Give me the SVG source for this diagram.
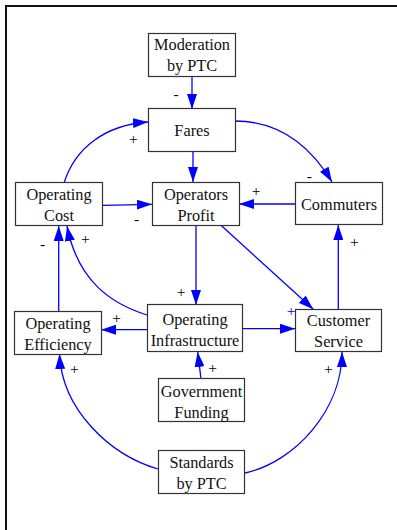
<svg xmlns="http://www.w3.org/2000/svg" width="397" height="530" viewBox="0 0 397 530">
<defs>
<style>
.node rect{fill:#fff;stroke:#333;stroke-width:1.2}
.node text{font-size:16.3px;fill:#111;text-anchor:middle}
.edge{fill:none;stroke:#0000ff;stroke-width:1.3;marker-end:url(#ah)}
.lbl{font-size:15.5px;fill:#000;text-anchor:middle}
.blue{fill:#0000ff}
</style>
<marker id="ah" markerUnits="userSpaceOnUse" markerWidth="15" markerHeight="10" refX="15" refY="5" orient="auto" viewBox="0 0 15 10">
<path d="M0,0 L15,5 L0,10 z" fill="#0000ff"/>
</marker>
</defs>
<rect x="6" y="6" width="420" height="560" fill="#fff" stroke="#111" stroke-width="2"/>
<g id="connectors" font-family="'Liberation Serif', 'Times New Roman', Times, serif">
<path class="edge" d="M192,76 L192,109"/>
<path class="edge" d="M193,152 L193,182"/>
<path class="edge" d="M235,121 C285,121 314,152 332,182"/>
<path class="edge" d="M64,183 C75,148 105,125 148,122"/>
<path class="edge" d="M102,205.3 L152,204.3"/>
<path class="edge" d="M296,204 L239,204"/>
<path class="edge" d="M196,225 L196,305"/>
<path class="edge" d="M220.7,225 L313.3,309.3"/>
<path class="edge" d="M147,329.7 L101,329.7"/>
<path class="edge" d="M242,328.7 L295,328.7"/>
<path class="edge" d="M147,315 C112,304 78,282 67,226"/>
<path class="edge" d="M58.7,311 L58.7,226"/>
<path class="edge" d="M338.3,309 L338.3,225"/>
<path class="edge" d="M201,379 L197.7,352"/>
<path class="edge" d="M158,469 C110,455 62,410 59.5,354"/>
<path class="edge" d="M245,473 C295,462 342,410 342,352"/>
<text class="lbl" x="176" y="98.5">-</text>
<text class="lbl" x="133.3" y="143.5">+</text>
<text class="lbl" x="309.3" y="180.5">-</text>
<text class="lbl" x="136.7" y="223.5">-</text>
<text class="lbl" x="256" y="195.8">+</text>
<text class="lbl" x="181" y="297">+</text>
<text class="lbl blue" x="291" y="315.5">+</text>
<text class="lbl" x="116.7" y="323">+</text>
<text class="lbl" x="85.3" y="243.8">+</text>
<text class="lbl" x="42.7" y="248.5">-</text>
<text class="lbl" x="354.3" y="247">+</text>
<text class="lbl" x="212.7" y="372.5">+</text>
<text class="lbl" x="74.3" y="374.2">+</text>
<text class="lbl" x="328.3" y="373.5">+</text>
</g>
<g font-family="'Liberation Serif', 'Times New Roman', Times, serif">
<g id="moderation" class="node"><rect x="148.5" y="33.5" width="87" height="43"/><text x="192" y="50">Moderation</text><text x="192" y="71">by PTC</text></g>
<g id="fares" class="node"><rect x="148.5" y="108.5" width="87" height="43"/><text x="192" y="136">Fares</text></g>
<g id="operating-cost" class="node"><rect x="15.5" y="182.5" width="87" height="43"/><text x="59" y="200">Operating</text><text x="59" y="221">Cost</text></g>
<g id="operators-profit" class="node"><rect x="152.5" y="182.5" width="87" height="43"/><text x="196" y="199.5">Operators</text><text x="196" y="220.5">Profit</text></g>
<g id="commuters" class="node"><rect x="295.5" y="182.5" width="87" height="42"/><text x="339" y="209.5">Commuters</text></g>
<g id="operating-efficiency" class="node"><rect x="14.5" y="311.5" width="87" height="43"/><text x="58" y="328.5">Operating</text><text x="58" y="349.5">Efficiency</text></g>
<g id="operating-infrastructure" class="node"><rect x="147.5" y="304.5" width="95" height="47"/><text x="195" y="324.5">Operating</text><text x="195" y="345.5">Infrastructure</text></g>
<g id="customer-service" class="node"><rect x="295.5" y="309.5" width="86" height="42"/><text x="338.5" y="326">Customer</text><text x="338.5" y="347">Service</text></g>
<g id="government-funding" class="node"><rect x="158.5" y="378.5" width="86" height="43"/><text x="201.5" y="396.5">Government</text><text x="201.5" y="417.5">Funding</text></g>
<g id="standards" class="node"><rect x="158.5" y="450.5" width="86" height="43"/><text x="201.5" y="467.5">Standards</text><text x="201.5" y="488.5">by PTC</text></g>
</g>
</svg>
